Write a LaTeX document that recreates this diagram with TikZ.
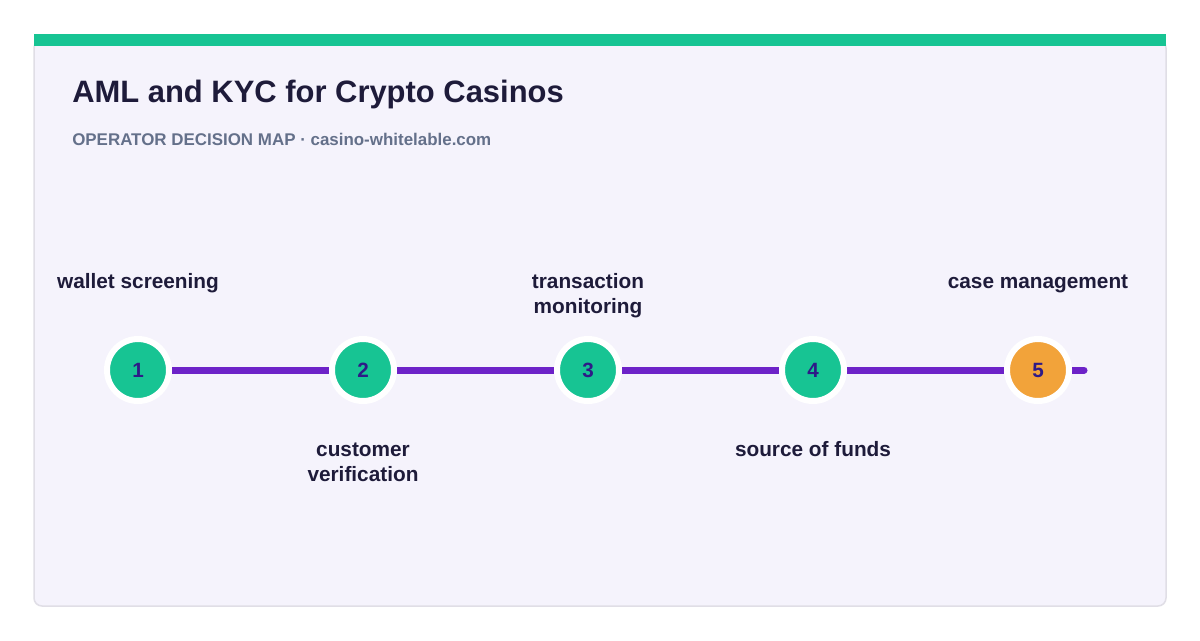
\documentclass[tikz,border=0pt]{standalone}
\usepackage{fontspec}
\setmainfont{Liberation Sans}
\definecolor{cardbg}{HTML}{F5F3FC}
\definecolor{cardborder}{HTML}{E0DEE6}
\definecolor{topbar}{HTML}{17C493}
\definecolor{green}{HTML}{17C493}
\definecolor{orange}{HTML}{F2A33A}
\definecolor{purple}{HTML}{6D22C8}
\definecolor{titlec}{HTML}{1E1B3A}
\definecolor{subc}{HTML}{64708A}
\definecolor{numc}{HTML}{2E1A87}
\tikzset{
  stepdot/.style={circle, minimum size=62*0.75pt, inner sep=0pt, draw=white, line width=6*0.75pt, font=\bfseries\fontsize{15.5}{17}\selectfont, text=numc},
  lbl/.style={font=\bfseries\fontsize{15.6}{18.75}\selectfont, text=titlec, align=center, inner sep=0pt},
}
\begin{document}
\begin{tikzpicture}[x=0.75pt,y=-0.75pt]
\useasboundingbox (0,0) rectangle (1200,640);
\fill[white] (0,0) rectangle (1200,640);
\draw[cardborder, fill=cardbg, line width=1.5*0.75pt, rounded corners=8*0.75pt] (34,40) rectangle (1166,606);
\fill[topbar] (34,34) rectangle (1166,46);
\node[anchor=base west, inner sep=0pt, font=\bfseries\fontsize{23.2}{26}\selectfont, text=titlec] (title) at (72,102) {AML and KYC for Crypto Casinos};
\node[anchor=base west, inner sep=0pt, font=\bfseries\fontsize{12.7}{15}\selectfont, text=subc] (sub) at (72,145) {OPERATOR DECISION MAP · casino-whitelable.com};
\coordinate (start) at (138,370);
\coordinate (end) at (1084,370);
\draw[purple, line width=7*0.75pt, line cap=round] (start) -- (end);
\node[stepdot, fill=green] (s1) at (138,370) {1};
\node[stepdot, fill=green] (s2) at (363,370) {2};
\node[stepdot, fill=green] (s3) at (588,370) {3};
\node[stepdot, fill=green] (s4) at (813,370) {4};
\node[stepdot, fill=orange] (s5) at (1038,370) {5};
\node[lbl, anchor=base] (l1) at (138,288) {wallet screening};
\node[lbl, anchor=base] (l3) at (588,313) {transaction\\monitoring};
\node[lbl, anchor=base] (l5) at (1038,288) {case management};
\node[lbl, anchor=base] (l2) at (363,481) {customer\\verification};
\node[lbl, anchor=base] (l4) at (813,456) {source of funds};
\end{tikzpicture}
\end{document}
